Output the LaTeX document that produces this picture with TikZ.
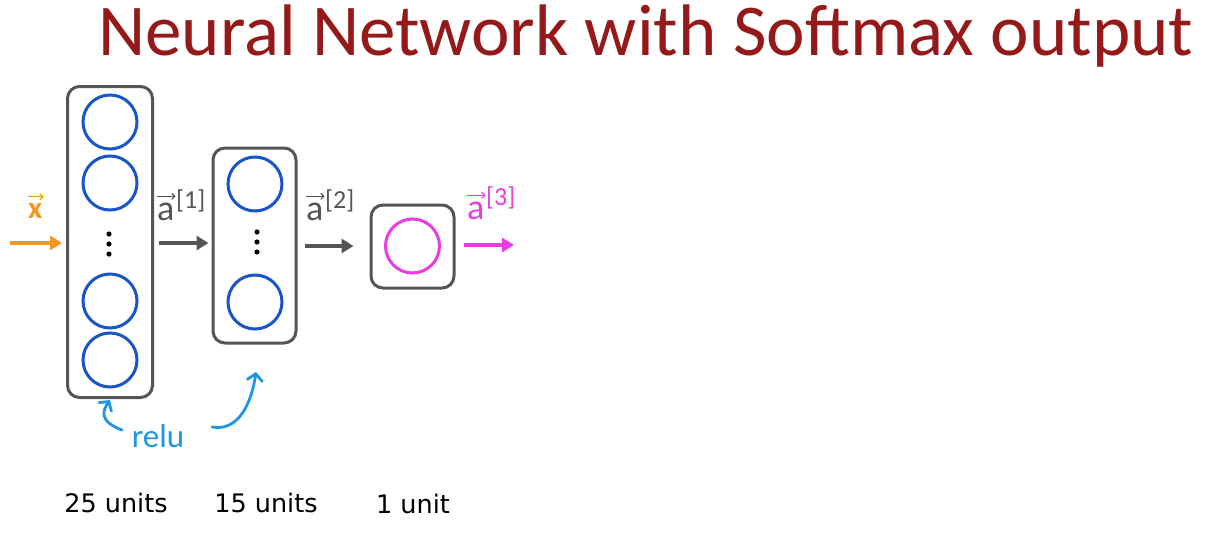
\documentclass[tikz,border=0pt]{standalone}
\usepackage{fontspec}
\setmainfont{Carlito}
\newfontfamily\unitfont{DejaVu Sans}
\usetikzlibrary{arrows.meta}

\definecolor{titlered}{RGB}{150,25,25}
\definecolor{boxgray}{RGB}{85,85,85}
\definecolor{unitblue}{RGB}{25,85,200}
\definecolor{outmagenta}{RGB}{235,60,225}
\definecolor{inorange}{RGB}{245,150,30}
\definecolor{notblue}{RGB}{30,150,230}

\tikzset{
  layerbox/.style={draw=boxgray, line width=3pt, rounded corners=12pt, rectangle, minimum width=83pt},
  neuron/.style={draw=unitblue, line width=3pt, circle, minimum size=54pt, inner sep=0pt},
  flow/.style={line width=4pt, -{Triangle[length=12pt,width=14pt]}},
  handarrow/.style={draw=notblue, line width=2.8pt, line cap=round, -{Straight Barb[length=7pt,width=16pt,line width=2.8pt]}},
  unitlabel/.style={font=\unitfont\fontsize{25.5}{28}\selectfont, anchor=base, text=black},
  vecbase/.style={anchor=base west, inner sep=0pt, font=\fontsize{36}{38}\selectfont},
  vecsup/.style={anchor=base west, inner sep=0pt, font=\fontsize{26}{28}\selectfont},
  vecarrow/.style={line width=1.3pt, -{Straight Barb[length=3pt,width=6pt,line width=1.2pt]}},
}
% three stacked dots between units
\newcommand\unitdots[1]{%
  \foreach \dy in {-10,0,10} \fill[black] ([yshift=\dy pt]#1) circle (2.6pt);}
% arrow over a vector symbol node
\newcommand\vecover[2]{%
  \draw[vecarrow, draw=#2] ([yshift=6pt]#1.north west) -- ([yshift=6pt,xshift=1pt]#1.north east);}

\begin{document}
\begin{tikzpicture}[x=1pt, y=-1pt]
\useasboundingbox[fill=white] (0,0) rectangle (1220,533);

% title
\node[anchor=base west, inner sep=0pt, text=titlered, font=\fontsize{73}{76}\selectfont] (title) at (98,55) {Neural Network with Softmax output};

% layer boxes
\node[layerbox, minimum width=85pt, minimum height=311pt] (L1) at (110,242) {};
\node[layerbox, minimum height=195pt] (L2) at (254.5,245.5) {};
\node[layerbox, minimum height=83pt] (L3) at (412.5,246.5) {};

% layer 1 units
\node[neuron] (n11) at (110,122) {};
\node[neuron] (n12) at (110,183) {};
\coordinate (d1) at (109,244);
\node[neuron] (n13) at (110,301) {};
\node[neuron] (n14) at (110,360) {};
\unitdots{d1}

% layer 2 units
\node[neuron] (n21) at (255,184) {};
\coordinate (d2) at (257,242);
\node[neuron] (n22) at (255,302) {};
\unitdots{d2}

% output unit
\node[neuron, draw=outmagenta] (n31) at (412.5,246) {};

% flow arrows
\coordinate (xin) at (10,243);
\coordinate (aout) at (514,245);
\draw[flow, draw=inorange] (xin) -- ([xshift=-4pt]xin -| L1.west);
\draw[flow, draw=boxgray] ([xshift=5pt]L1.east |- 0,243) -- ([xshift=-3pt]L2.west |- 0,243);
\draw[flow, draw=boxgray] ([xshift=7pt]L2.east |- 0,246) -- ([xshift=-16pt]L3.west |- 0,246);
\draw[flow, draw=outmagenta] ([xshift=8pt]L3.east |- 0,245) -- (aout);

% vector labels
\node[vecbase, text=inorange, font=\bfseries\fontsize{31}{33}\selectfont] (xl) at (28,218) {x};
\vecover{xl}{inorange}
\node[vecbase, text=boxgray] (a1) at (157,220) {a};
\node[vecsup, text=boxgray] (s1) at (176,208) {[1]};
\vecover{a1}{boxgray}
\node[vecbase, text=boxgray] (a2) at (306,220) {a};
\node[vecsup, text=boxgray] (s2) at (325,208) {[2]};
\vecover{a2}{boxgray}
\node[vecbase, text=outmagenta] (a3) at (467,219) {a};
\node[vecsup, text=outmagenta] (s3) at (486,205) {[3]};
\vecover{a3}{outmagenta}

% activation note
\node[anchor=base, text=notblue, font=\fontsize{33}{35}\selectfont] (relu) at (158,447) {relu};
\coordinate (r1) at (122,430);
\coordinate (r2) at (212,427);
\draw[handarrow] (r1) .. controls (98,421) and (103,410) .. (110,400);
\draw[handarrow] (r2) .. controls (240,432) and (252,400) .. (256,372);

% unit counts
\node[unitlabel] (u1) at (116,512) {25 units};
\node[unitlabel] (u2) at (266,512) {15 units};
\node[unitlabel] (u3) at (413,513) {1 unit};
\end{tikzpicture}
\end{document}
